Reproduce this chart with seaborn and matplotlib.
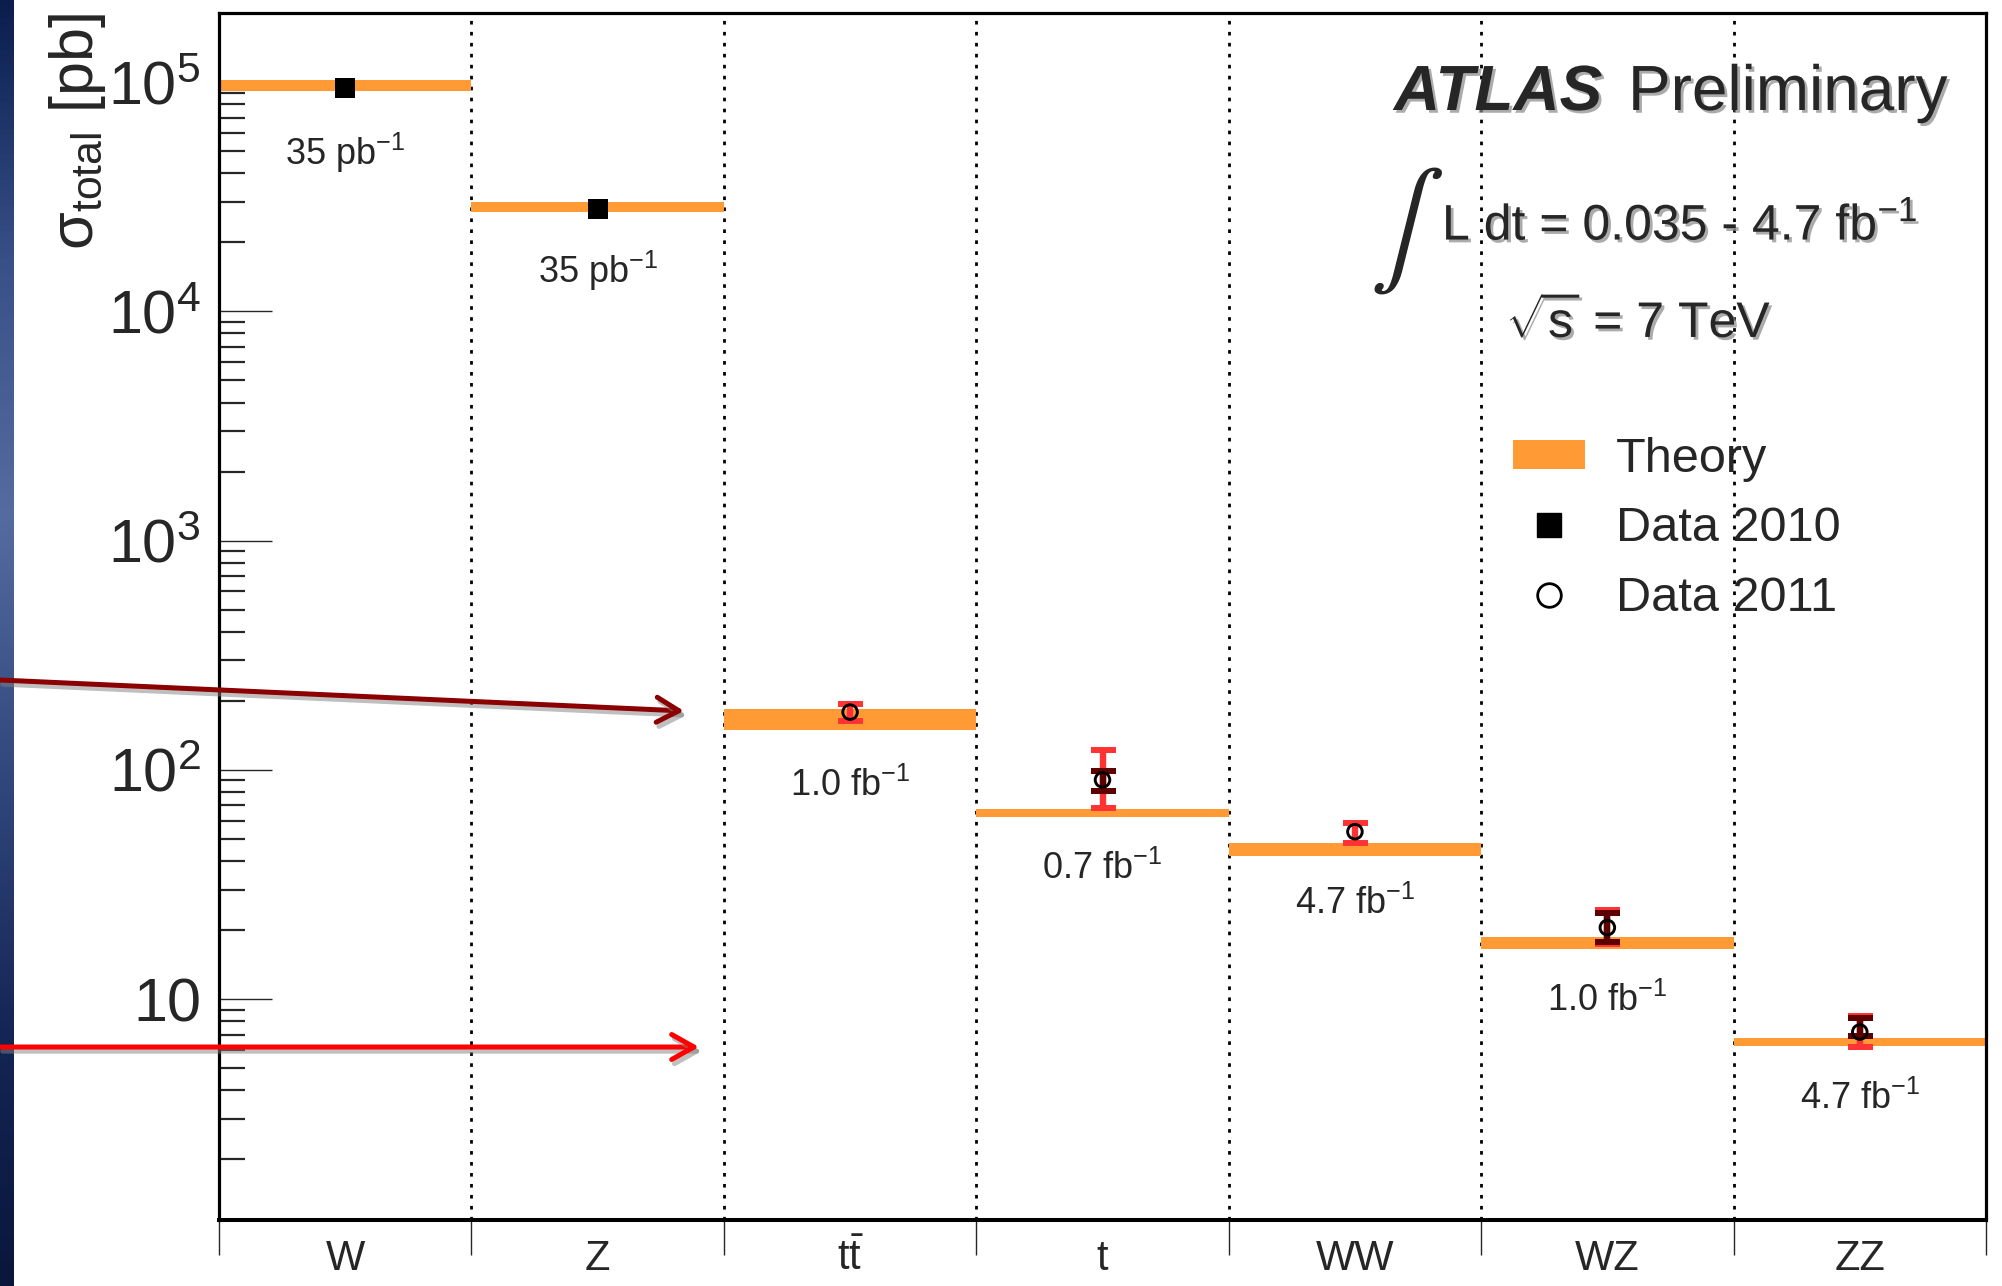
import numpy as np
import pandas as pd
import seaborn as sns
import matplotlib
matplotlib.use("Agg")
import matplotlib.pyplot as plt
from matplotlib import patheffects as pe
from matplotlib.patches import FancyArrowPatch, Patch
from matplotlib.lines import Line2D

# ---------------- data ----------------
categories = ["W", "Z", "ttbar", "t", "WW", "WZ", "ZZ"]
tick_labels = ["W", "Z", r"$\mathrm{t}\bar{\mathrm{t}}$", "t", "WW", "WZ", "ZZ"]
theory_lo = [9.17e4, 2.72e4, 149.0, 62.5, 42.2, 16.5, 6.24]
theory_hi = [1.02e5, 3.00e4, 184.0, 67.4, 47.9, 18.6, 6.74]
lumi_labels = ["35 pb$^{-1}$", "35 pb$^{-1}$", "1.0 fb$^{-1}$", "0.7 fb$^{-1}$",
               "4.7 fb$^{-1}$", "1.0 fb$^{-1}$", "4.7 fb$^{-1}$"]

data2010_cat = ["W", "Z"]
data2010_val = [9.42e4, 2.79e4]

data2011_cat = ["ttbar", "t", "WW", "WZ", "ZZ"]
data2011_val = [178.5, 90.4, 53.7, 20.5, 7.18]
data2011_tot_lo = [164.0, 68.2, 48.1, 17.3, 6.18]
data2011_tot_hi = [193.0, 121.6, 58.6, 24.5, 8.40]
data2011_stat_lo = [np.nan, 80.9, np.nan, 17.7, 6.90]
data2011_stat_hi = [np.nan, 98.9, np.nan, 23.8, 8.24]

# ---------------- style ----------------
sns.set_style("white")
plt.rcParams["font.family"] = ["Liberation Sans", "DejaVu Sans"]
plt.rcParams["mathtext.fontset"] = "custom"
plt.rcParams["mathtext.rm"] = "Liberation Sans"
plt.rcParams["mathtext.it"] = "Liberation Sans:italic"
plt.rcParams["mathtext.bf"] = "Liberation Sans:bold"

ORANGE = "#ff9a35"
RED = "#ff3333"
DARKRED = "#5c0000"

W, H = 2002, 1286
fig = plt.figure(figsize=(W / 100, H / 100), dpi=100)
fig.patch.set_facecolor("white")

# left blue gradient stripe
sax = fig.add_axes([0, 0, 14 / W, 1])
grad_cols = np.array([[10, 30, 78], [55, 80, 135], [85, 108, 160], [50, 72, 125],
                      [20, 38, 85], [10, 22, 60]]) / 255.0
grad = np.zeros((200, 1, 3))
pos = np.linspace(0, 1, len(grad_cols))
yy = np.linspace(0, 1, 200)
for c in range(3):
    grad[:, 0, c] = np.interp(yy, pos, grad_cols[:, c])
sax.imshow(grad, aspect="auto", extent=[0, 1, 0, 1])
sax.set_axis_off()

# main axes
L, R, T, B = 219, 1986, 13, 1220
ax = fig.add_axes([L / W, 1 - B / H, (R - L) / W, (B - T) / H])
ax.set_facecolor("white")

xpos = {c: i for i, c in enumerate(categories)}
xs = np.arange(len(categories))

# theory bands
ax.bar(xs, np.array(theory_hi) - np.array(theory_lo), bottom=theory_lo, width=1.0,
       color=ORANGE, linewidth=0, zorder=2)

# dotted category dividers
for b in np.arange(0.5, len(categories) - 0.5, 1.0):
    ax.axvline(b, color="black", lw=2.0, ls=(0, (1.3, 2.65)), zorder=1.5)

# 2011 error bars (total then stat)
x11 = np.array([xpos[c] for c in data2011_cat], dtype=float)
v11 = np.array(data2011_val)
tlo, thi = np.array(data2011_tot_lo), np.array(data2011_tot_hi)
ax.errorbar(x11, v11, yerr=[v11 - tlo, thi - v11], fmt="none", ecolor=RED,
            elinewidth=4.6, capsize=9, capthick=4.3, zorder=3)
slo, shi = np.array(data2011_stat_lo), np.array(data2011_stat_hi)
m = ~np.isnan(slo)
ax.errorbar(x11[m], v11[m], yerr=[v11[m] - slo[m], shi[m] - v11[m]], fmt="none",
            ecolor=DARKRED, elinewidth=4.6, capsize=9, capthick=4.3, zorder=3.5)

# markers
df10 = pd.DataFrame({"x": [xpos[c] for c in data2010_cat], "y": data2010_val})
df11 = pd.DataFrame({"x": x11, "y": v11})
sns.scatterplot(data=df10, x="x", y="y", marker="s", s=207, color="black",
                linewidth=0, ax=ax, zorder=5)
sns.scatterplot(data=df11, x="x", y="y", marker="o", s=110, facecolors="none",
                edgecolor="black", linewidth=2.1, ax=ax, zorder=5)

# axes scales
ax.set_yscale("log")
ax.set_ylim(1.087, 2.0e5)
ax.set_xlim(-0.5, len(categories) - 0.5)

ax.set_yticks([10, 1e2, 1e3, 1e4, 1e5],
              labels=["10", r"$10^{2}$", r"$10^{3}$", r"$10^{4}$", r"$10^{5}$"])
minor = [k * 10.0 ** d for d in range(0, 5) for k in range(2, 10)]
ax.set_yticks(minor, minor=True)
ax.set_yticklabels([], minor=True)
ax.tick_params(axis="y", which="major", direction="in", length=38, width=1.0,
               labelsize=44, pad=13, left=True, right=False)
ax.tick_params(axis="y", which="minor", direction="in", length=19, width=1.6,
               left=True, right=False)

ax.set_xticks(xs, labels=tick_labels)
ax.set_xticks(np.arange(-0.5, len(categories), 1.0), minor=True)
ax.tick_params(axis="x", which="major", direction="out", length=0, pad=14,
               labelsize=30, bottom=True, top=False)
ax.tick_params(axis="x", which="minor", direction="out", length=25, width=1.0,
               bottom=True, top=False)

for s in ["left", "right", "top"]:
    ax.spines[s].set_linewidth(2.3)
    ax.spines[s].set_color("black")
ax.spines["bottom"].set_linewidth(2.9)
ax.spines["bottom"].set_color("black")

ax.set_xlabel("")
ax.set_ylabel(r"$\mathrm{σ}_{\mathrm{total}}$ [pb]", fontsize=44, loc="top")
ax.yaxis.set_label_coords(-0.063, 1.0)

# luminosity labels under each band
label_offsets_pt = [45, 42.5, 40, 37.5, 35, 37, 38]
for i, (lbl, lo) in enumerate(zip(lumi_labels, theory_lo)):
    ax.annotate(lbl, xy=(i, lo), xytext=(0, -label_offsets_pt[i]),
                textcoords="offset points", ha="center", va="center",
                fontsize=26, zorder=6)

# ATLAS texts
shadow = [pe.SimplePatchShadow(offset=(2, -2), shadow_rgbFace="#888888", alpha=0.7),
          pe.Normal()]


def fx(px):
    return (px - L) / (R - L)


def fy(py):
    return (B - py) / (B - T)


tr = ax.transAxes
ax.text(fx(1394), fy(110), "ATLAS", fontsize=46, fontweight="bold", fontstyle="italic",
        ha="left", va="baseline", path_effects=shadow, zorder=7, transform=tr)
ax.text(fx(1628), fy(110), "Preliminary", fontsize=46, ha="left", va="baseline",
        path_effects=shadow, zorder=7, transform=tr)
ax.text(fx(1406), fy(231), r"$\int$", fontsize=80, math_fontfamily="stix",
        ha="center", va="center", zorder=7, transform=tr)
ax.text(fx(1442), fy(240), r"L dt = 0.035 - 4.7 fb$^{-1}$", fontsize=36,
        ha="left", va="baseline", path_effects=shadow, zorder=7, transform=tr)
ax.text(fx(1506), fy(337), r"$\sqrt{\mathrm{s}}$ = 7 TeV", fontsize=36,
        ha="left", va="baseline", path_effects=shadow, zorder=7, transform=tr)

# legend
handles = [Patch(facecolor=ORANGE, edgecolor="none", label="Theory"),
           Line2D([], [], marker="s", ls="none", color="black", markersize=17,
                  label="Data 2010"),
           Line2D([], [], marker="o", ls="none", markerfacecolor="none",
                  markeredgecolor="black", markersize=17, markeredgewidth=2.0,
                  label="Data 2011")]
ax.legend(handles=handles, loc="upper left", bbox_to_anchor=(fx(1513), fy(437)),
          frameon=False, fontsize=35, borderpad=0, borderaxespad=0,
          handlelength=1.48, handleheight=0.55, handletextpad=0.64,
          labelspacing=0.5)

# arrows in the figure margin
def fig_xy(px, py):
    return (px / W, 1 - py / H)


for (a, b, col) in [((0, 680), (684, 711), "#8b0000"), ((0, 1047), (699, 1047), "#ff0000")]:
    arr = FancyArrowPatch(fig_xy(*a), fig_xy(*b), transform=fig.transFigure,
                          arrowstyle="->,head_length=0.8,head_width=0.45",
                          mutation_scale=20, color=col, lw=3.6,
                          shrinkA=0, shrinkB=0, zorder=10,
                          path_effects=[pe.SimpleLineShadow(offset=(2, -3),
                                                            shadow_color="gray",
                                                            alpha=0.5),
                                        pe.Normal()])
    fig.add_artist(arr)

fig.savefig("out.png", dpi=100)
